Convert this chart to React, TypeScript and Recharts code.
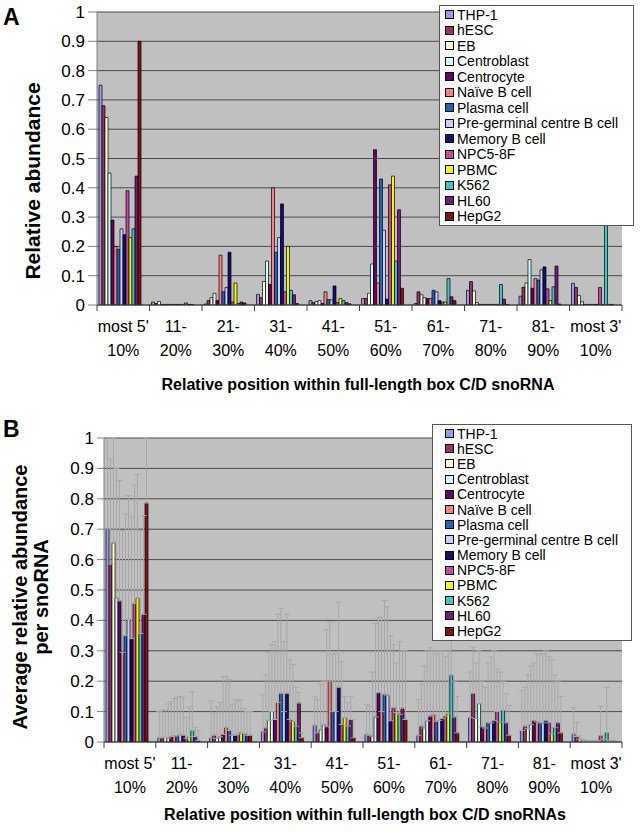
import React from 'react';
import { BarChart, Bar, XAxis, YAxis, CartesianGrid, Legend, ErrorBar } from 'recharts';

const FONT = "'Liberation Sans', Arial, sans-serif";

const CATEGORIES = ["most 5'\n10%", "11-\n20%", "21-\n30%", "31-\n40%", "41-\n50%", "51-\n60%", "61-\n70%", "71-\n80%", "81-\n90%", "most 3'\n10%"];

const SERIES = ['THP-1', 'hESC', 'EB', 'Centroblast', 'Centrocyte', 'Naïve B cell', 'Plasma cell', 'Pre-germinal centre B cell', 'Memory B cell', 'NPC5-8F', 'PBMC', 'K562', 'HL60', 'HepG2'];

const COLORS = ['#9999EE', '#993366', '#FFFFCC', '#CCFFFF', '#660066', '#FF8080', '#1F66BF', '#CCCCFF', '#101070', '#C04AA0', '#F5F500', '#3CC8C8', '#7A1A7A', '#841414'];

const Y_TICKS = [0, 0.1, 0.2, 0.3, 0.4, 0.5, 0.6, 0.7, 0.8, 0.9, 1];

// Panel A: relative abundance (rows = series, columns = categories)
const VALUES_A = [
  [0.75, 0.01, 0.003, 0.036, 0.015, 0.022, 0.005, 0.05, 0.03, 0.074],
  [0.68, 0.005, 0.015, 0.025, 0.008, 0.022, 0.045, 0.08, 0.06, 0.06],
  [0.64, 0.012, 0.025, 0.08, 0.012, 0.04, 0.035, 0.048, 0.075, 0.032],
  [0.45, 0.002, 0.04, 0.15, 0.015, 0.14, 0.025, 0.008, 0.155, 0.011],
  [0.29, 0.002, 0.015, 0.07, 0.005, 0.53, 0.022, 0.002, 0.057, 0.002],
  [0.2, 0.002, 0.17, 0.4, 0.045, 0.075, 0.022, 0.002, 0.09, 0.002],
  [0.19, 0.002, 0.045, 0.18, 0.018, 0.43, 0.05, 0.002, 0.085, 0.002],
  [0.26, 0.002, 0.06, 0.23, 0.018, 0.255, 0.045, 0.002, 0.12, 0.002],
  [0.24, 0.002, 0.18, 0.345, 0.065, 0.02, 0.015, 0.002, 0.13, 0.002],
  [0.39, 0.002, 0.01, 0.045, 0.008, 0.41, 0.01, 0.002, 0.055, 0.06],
  [0.23, 0.002, 0.075, 0.2, 0.022, 0.44, 0.01, 0.002, 0.015, 0.002],
  [0.26, 0.007, 0.005, 0.05, 0.015, 0.15, 0.09, 0.07, 0.062, 0.33],
  [0.44, 0.002, 0.01, 0.035, 0.008, 0.325, 0.028, 0.02, 0.133, 0.002],
  [0.9, 0.002, 0.007, 0.005, 0.004, 0.057, 0.015, 0.002, 0.003, 0.002],
];

// Panel B: average relative abundance per snoRNA
const VALUES_B = [
  [0.7, 0.013, 0.013, 0.033, 0.055, 0.025, 0.022, 0.08, 0.038, 0.026],
  [0.585, 0.015, 0.022, 0.046, 0.03, 0.022, 0.052, 0.16, 0.052, 0.018],
  [0.655, 0.015, 0.012, 0.071, 0.04, 0.019, 0.046, 0.077, 0.044, 0.009],
  [0.473, 0.013, 0.017, 0.1, 0.057, 0.082, 0.07, 0.126, 0.057, 0.004],
  [0.464, 0.018, 0.025, 0.074, 0.05, 0.162, 0.085, 0.05, 0.07, 0.003],
  [0.295, 0.02, 0.048, 0.13, 0.2, 0.1, 0.09, 0.046, 0.066, 0.003],
  [0.35, 0.02, 0.038, 0.16, 0.1, 0.157, 0.068, 0.063, 0.063, 0.003],
  [0.403, 0.025, 0.022, 0.1, 0.1, 0.154, 0.071, 0.063, 0.063, 0.003],
  [0.34, 0.022, 0.022, 0.16, 0.18, 0.07, 0.077, 0.07, 0.07, 0.003],
  [0.456, 0.012, 0.025, 0.074, 0.058, 0.113, 0.085, 0.1, 0.063, 0.021],
  [0.473, 0.018, 0.03, 0.068, 0.08, 0.097, 0.093, 0.066, 0.027, 0.007],
  [0.357, 0.038, 0.028, 0.052, 0.052, 0.091, 0.22, 0.104, 0.047, 0.031],
  [0.42, 0.018, 0.022, 0.128, 0.074, 0.111, 0.082, 0.063, 0.063, 0.003],
  [0.786, 0.005, 0.022, 0.014, 0.014, 0.074, 0.03, 0.022, 0.03, 0.003],
];

// Panel B: top of the (upward) error bar
const ERR_TOP_B = [
  [1.0, 0.1, 0.135, 0.155, 0.148, 0.124, 0.14, 0.23, 0.17, 0.113],
  [0.93, 0.105, 0.095, 0.22, 0.14, 0.118, 0.19, 0.31, 0.18, 0.064],
  [1.0, 0.105, 0.115, 0.295, 0.19, 0.23, 0.25, 0.26, 0.22, 0.02],
  [0.9, 0.125, 0.13, 0.32, 0.2, 0.39, 0.3, 0.3, 0.25, 0.01],
  [0.86, 0.132, 0.215, 0.33, 0.37, 0.41, 0.31, 0.2, 0.26, 0.005],
  [0.695, 0.143, 0.215, 0.42, 0.395, 0.41, 0.3, 0.18, 0.29, 0.005],
  [0.75, 0.148, 0.205, 0.44, 0.29, 0.465, 0.29, 0.26, 0.29, 0.005],
  [0.81, 0.15, 0.125, 0.33, 0.29, 0.445, 0.3, 0.28, 0.29, 0.005],
  [0.74, 0.145, 0.14, 0.42, 0.46, 0.35, 0.3, 0.3, 0.3, 0.005],
  [0.845, 0.08, 0.135, 0.27, 0.265, 0.32, 0.28, 0.24, 0.28, 0.117],
  [0.88, 0.115, 0.138, 0.255, 0.15, 0.26, 0.3, 0.23, 0.27, 0.01],
  [0.695, 0.165, 0.11, 0.18, 0.13, 0.33, 0.39, 0.2, 0.22, 0.18],
  [0.745, 0.048, 0.1, 0.163, 0.15, 0.3, 0.2, 0.16, 0.2, 0.005],
  [1.0, 0.038, 0.1, 0.03, 0.074, 0.3, 0.15, 0.12, 0.15, 0.005],
];

const tableA = CATEGORIES.map((cat, i) => {
  const row: any = { cat };
  SERIES.forEach((_, s) => { row['s' + s] = VALUES_A[s][i]; });
  return row;
});

const tableB = CATEGORIES.map((cat, i) => {
  const row: any = { cat };
  SERIES.forEach((_, s) => {
    row['s' + s] = VALUES_B[s][i];
    row['e' + s] = [0, Math.max(0, ERR_TOP_B[s][i] - VALUES_B[s][i])];
  });
  return row;
});

const CatTick = (props: any) => {
  const { x, y, payload, half } = props;
  const idx = props.index ?? payload.index;
  const lines = String(payload.value).split('\n');
  return (
    <g>
      <line x1={x - half} x2={x - half} y1={y} y2={y + 6} stroke="#404040" />
      {idx === CATEGORIES.length - 1 && (
        <line x1={x + half} x2={x + half} y1={y} y2={y + 6} stroke="#404040" />
      )}
      <text x={x} y={y + 27} textAnchor="middle" fontSize={16} fontFamily={FONT} fill="#000">{lines[0]}</text>
      <text x={x} y={y + 51} textAnchor="middle" fontSize={16} fontFamily={FONT} fill="#000">{lines[1]}</text>
    </g>
  );
};

const LegendBox = (props: any) => {
  const { payload, pitch, padLeft } = props;
  const items = [...(payload || [])].sort(
    (a: any, b: any) => SERIES.indexOf(a.value) - SERIES.indexOf(b.value)
  );
  return (
    <div style={{ background: '#fff', border: '1px solid #555', paddingLeft: padLeft, paddingTop: 1, paddingBottom: 1, boxSizing: 'border-box', fontFamily: FONT, fontSize: 14, color: '#000' }}>
      {items.map((e: any, i: number) => (
        <div key={i} style={{ height: pitch, display: 'flex', alignItems: 'center', whiteSpace: 'nowrap' }}>
          <span style={{ width: 7, height: 7, border: '1px solid #000', background: e.color || COLORS[i], marginRight: 3, flex: 'none' }} />
          <span>{e.value}</span>
        </div>
      ))}
    </div>
  );
};

const abs = (extra: any): React.CSSProperties => ({ position: 'absolute', fontFamily: FONT, color: '#000', whiteSpace: 'nowrap', ...extra });

export default function App() {
  return (
    <div style={{ position: 'absolute', left: 0, top: 0, width: 640, height: 832, background: '#fff', overflow: 'hidden' }}>
      {/* Panel A */}
      <div style={{ position: 'absolute', left: 0, top: 0 }}>
        <BarChart width={640} height={420} data={tableA} margin={{ top: 12, right: 18, left: 0, bottom: 0 }} barCategoryGap={2} barGap={0}>
          <CartesianGrid fill="#C0C0C0" vertical={false} stroke="#4a4a4a" />
          <XAxis dataKey="cat" interval={0} height={115} tickLine={false} tickSize={0} tickMargin={0} axisLine={{ stroke: '#404040' }} tick={(p: any) => <CatTick {...p} half={26.25} />} />
          <YAxis domain={[0, 1]} ticks={Y_TICKS} allowDataOverflow width={97} tickSize={9} tickMargin={3} interval={0} axisLine={{ stroke: '#808080' }} tickLine={{ stroke: '#808080' }} tick={{ fontSize: 17, fill: '#000', fontFamily: FONT }} tickFormatter={(v: number) => String(v)} />
          <YAxis yAxisId="r" orientation="right" width={0} domain={[0, 1]} tick={false} tickLine={false} axisLine={{ stroke: '#808080' }} />
          {SERIES.map((name, s) => (
            <Bar key={s} dataKey={'s' + s} name={name} fill={COLORS[s]} stroke="#000" strokeWidth={0.7} isAnimationActive={false} />
          ))}
          <Legend layout="vertical" align="center" verticalAlign="middle" wrapperStyle={{ left: 439, top: 5, width: 195 }} content={(p: any) => <LegendBox {...p} pitch={15.5} padLeft={5} />} />
        </BarChart>
      </div>

      {/* Panel B */}
      <div style={{ position: 'absolute', left: 0, top: 400 }}>
        <BarChart width={640} height={432} data={tableB} margin={{ top: 38, right: 18, left: 0, bottom: 0 }} barCategoryGap={2} barGap={0}>
          <CartesianGrid fill="#C0C0C0" vertical={false} stroke="#4a4a4a" />
          <XAxis dataKey="cat" interval={0} height={90} tickLine={false} tickSize={0} tickMargin={0} axisLine={{ stroke: '#404040' }} tick={(p: any) => <CatTick {...p} half={25.9} />} />
          <YAxis domain={[0, 1]} ticks={Y_TICKS} allowDataOverflow width={104} tickSize={7} tickMargin={3} interval={0} axisLine={{ stroke: '#808080' }} tickLine={{ stroke: '#808080' }} tick={{ fontSize: 17, fill: '#000', fontFamily: FONT }} tickFormatter={(v: number) => String(v)} />
          <YAxis yAxisId="r" orientation="right" width={0} domain={[0, 1]} tick={false} tickLine={false} axisLine={{ stroke: '#808080' }} />
          {SERIES.map((name, s) => (
            <Bar key={s} dataKey={'s' + s} name={name} fill={COLORS[s]} stroke="#000" strokeWidth={0.7} isAnimationActive={false}>
              <ErrorBar dataKey={'e' + s} direction="y" width={3} stroke="#a8a8a8" strokeWidth={1} />
            </Bar>
          ))}
          <Legend layout="vertical" align="center" verticalAlign="middle" wrapperStyle={{ left: 432, top: 24, width: 200 }} content={(p: any) => <LegendBox {...p} pitch={15.2} padLeft={12} />} />
        </BarChart>
      </div>

      {/* Titles */}
      <div style={abs({ left: 3, top: 6, fontSize: 23, fontWeight: 'bold', lineHeight: '22px' })}>A</div>
      <div style={abs({ left: 3, top: 418, fontSize: 23, fontWeight: 'bold', lineHeight: '22px' })}>B</div>

      <div style={abs({ left: 33, top: 181, fontSize: 21, fontWeight: 'bold', transform: 'translate(-50%, -50%) rotate(-90deg)' })}>Relative abundance</div>
      <div style={abs({ left: 31, top: 597, fontSize: 20, fontWeight: 'bold', lineHeight: '21px', textAlign: 'center', transform: 'translate(-50%, -50%) rotate(-90deg)' })}>
        Average relative abundance<br />per snoRNA
      </div>

      <div style={abs({ left: 358, top: 385, fontSize: 16, fontWeight: 'bold', transform: 'translate(-50%, -50%)' })}>Relative position within full-length box C/D snoRNA</div>
      <div style={abs({ left: 365, top: 815, fontSize: 16, fontWeight: 'bold', transform: 'translate(-50%, -50%)' })}>Relative position within full-length box C/D snoRNAs</div>
    </div>
  );
}
